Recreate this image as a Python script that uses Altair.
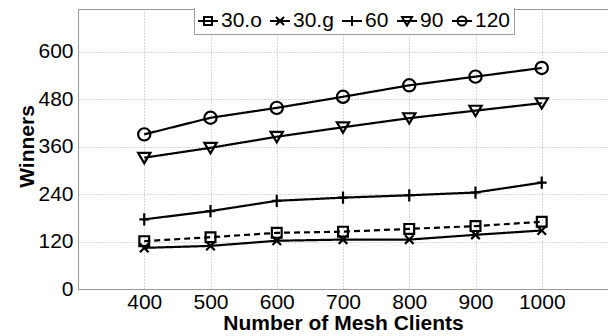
import altair as alt
import pandas as pd

clients = [400, 500, 600, 700, 800, 900, 1000]
series_names = ["30.o", "30.g", "60", "90", "120"]
s30o = [121, 131, 142, 145, 152, 159, 170]
s30g = [104, 109, 122, 125, 125, 137, 148]
s60 = [176, 197, 223, 231, 237, 244, 269]
s90 = [332, 357, 385, 409, 432, 451, 470]
s120 = [391, 433, 458, 486, 515, 537, 559]
x_ticks = [400, 500, 600, 700, 800, 900, 1000]
y_ticks = [0, 120, 240, 360, 480, 600]

rows = []
for name, vals in zip(series_names, [s30o, s30g, s60, s90, s120]):
    for c, v in zip(clients, vals):
        rows.append({"clients": c, "winners": v, "series": name})
df = pd.DataFrame(rows)

FONT = "Liberation Sans"

# plot marker shapes (unit paths)
plot_shapes = [
    "M-0.8,-0.8H0.8V0.8H-0.8Z",
    "M-0.7,-0.7L0.7,0.7M-0.7,0.7L0.7,-0.7",
    "M-0.8,0H0.8M0,-1V1",
    "M-1,-0.8L1,-0.8L0,0.9Z",
    "circle",
]
# legend symbols: marker with a line through it
legend_shapes = [
    "M-1,0H1M-0.4,-0.4H0.4V0.4H-0.4Z",
    "M-1,0H1M-0.4,-0.4L0.4,0.4M-0.4,0.4L0.4,-0.4",
    "M-1,0H1M0,-0.5V0.5",
    "M-1,0H1M-0.5,-0.4L0.5,-0.4L0,0.45Z",
    "M-1,0H1M-0.45,0A0.45,0.45 0 1,0 0.45,0A0.45,0.45 0 1,0 -0.45,0Z",
]

xenc = alt.X(
    "clients:Q",
    scale=alt.Scale(domain=[300, 1100], nice=False, zero=False),
    axis=alt.Axis(
        values=x_ticks, format="d", title="Number of Mesh Clients", labelFontSize=21,
        titleFontSize=21, titleFontWeight="bold", labelPadding=2, ticks=False,
        grid=True, gridDash=[1, 2], gridColor="#b0b0b0", labelFlush=False,
        titleY=40, titleBaseline="alphabetic", labelColor="black",
        titleColor="black", domainColor="#999999", labelFont=FONT, titleFont=FONT,
    ),
)
yenc = alt.Y(
    "winners:Q",
    scale=alt.Scale(domain=[0, 708], nice=False),
    axis=alt.Axis(
        values=y_ticks, format="d", title="Winners", labelFontSize=21, titleFontSize=21,
        titleFontWeight="bold", labelPadding=5, ticks=False, grid=True,
        gridDash=[1, 2], gridColor="#b0b0b0", titleX=-45, titleY=137,
        titleBaseline="alphabetic", titleAngle=270, labelColor="black",
        titleColor="black", domainColor="#999999", labelFont=FONT, titleFont=FONT,
    ),
)

base = alt.Chart(df).encode(x=xenc, y=yenc)

lines = base.mark_line(color="black", strokeWidth=2.2).encode(
    detail="series:N",
    strokeDash=alt.StrokeDash(
        "series:N",
        scale=alt.Scale(domain=series_names, range=[[6, 4], [1, 0], [1, 0], [1, 0], [1, 0]]),
        legend=None,
    ),
)

points = base.mark_point(
    filled=False, color="black", strokeWidth=2.2, size=150, opacity=1
).encode(
    shape=alt.Shape(
        "series:N",
        scale=alt.Scale(domain=series_names, range=plot_shapes),
        legend=None,
    )
)

legend_layer = base.mark_point(
    filled=False, color="black", strokeWidth=2, size=144, opacity=0
).encode(
    shape=alt.Shape(
        "series:N",
        scale=alt.Scale(domain=series_names, range=legend_shapes),
        legend=alt.Legend(
            title=None, orient="none", legendX=116, legendY=-2,
            direction="horizontal", columns=5, labelFont=FONT, labelFontSize=21,
            labelColor="black", symbolSize=400, symbolStrokeWidth=2,
            symbolStrokeColor="black", symbolOpacity=1,
            strokeColor="#999999", fillColor="white",
            padding=3, columnPadding=4, labelOffset=2,
        ),
    )
)

chart = (
    alt.layer(lines, points, legend_layer)
    .resolve_scale(shape="independent")
    .properties(
        width=530, height=280,
        autosize=alt.AutoSizeParams(type="none"),
        padding={"left": 70, "top": 1, "right": 0, "bottom": 47},
        background="white",
    )
    .configure(font=FONT)
    .configure_view(stroke="#999999", strokeWidth=1)
)

chart.save("out.html", embed_options={"renderer": "svg", "actions": False})
